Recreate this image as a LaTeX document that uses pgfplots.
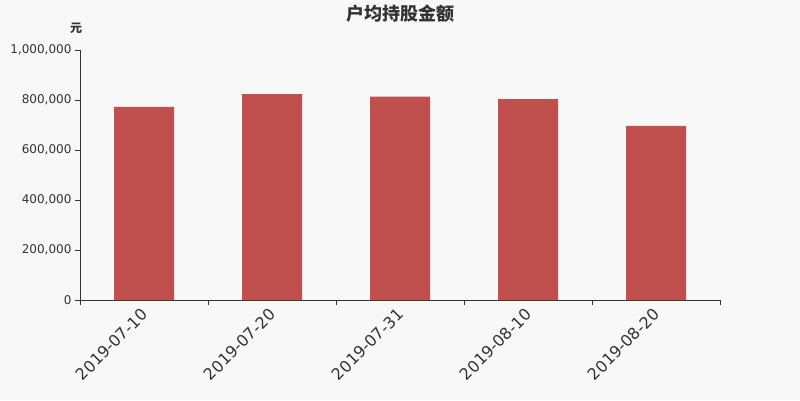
\documentclass[border=0pt]{standalone}
\usepackage{fontspec}
\setmainfont{DejaVu Sans}
\newfontfamily\cjk{Noto Sans CJK SC}
\usepackage{pgfplots}
\pgfplotsset{compat=1.18}
\definecolor{bg}{HTML}{F8F8F8}
\definecolor{barred}{HTML}{C0504D}
\definecolor{txt}{HTML}{333333}

\begin{document}
\begin{tikzpicture}[x=1pt,y=1pt]
\fill[bg] (0,0) rectangle (800,400);
\path[use as bounding box] (0,0) rectangle (800,400);
\begin{axis}[
    at={(80pt,100pt)}, anchor=south west,
    width=640pt, height=250pt, scale only axis,
    xmin=-0.5, xmax=4.5, ymin=0, ymax=1000000,
    axis x line*=bottom, axis y line*=left,
    axis line style={-, draw=txt, line width=0.8pt},
    tick align=outside, major tick length=5pt,
    tick style={draw=txt, line width=0.8pt},
    xtick={-0.5,0.5,1.5,2.5,3.5,4.5}, xticklabels={},
    extra x ticks={0,1,2,3,4},
    extra x tick labels={2019-07-10,2019-07-20,2019-07-31,2019-08-10,2019-08-20},
    extra x tick style={major tick length=0pt,
        tick label style={yshift=-9pt, xshift=3pt, rotate=45, anchor=east,
            font=\fontsize{16}{16}\selectfont, text=txt}},
    ytick={0,200000,400000,600000,800000,1000000},
    scaled y ticks=false,
    yticklabel style={font=\fontsize{12}{12}\selectfont, text=txt,
        /pgf/number format/.cd, fixed, 1000 sep={,}, assume math mode=true},
    title={户均持股金额},
    title style={at={(0.5,1)}, anchor=center, yshift=30pt,
        font=\cjk\bfseries\fontsize{18}{18}\selectfont, text=txt},
    ylabel={元},
    every axis y label/.style={at={(axis description cs:0,1)}, anchor=center,
        xshift=-4pt, yshift=22pt, font=\cjk\bfseries\fontsize{12}{12}\selectfont, text=txt},
]
\addplot[ybar, bar width=60pt, fill=barred, draw=none] coordinates {
    (0, 773000)
    (1, 824000)
    (2, 814000)
    (3, 804000)
    (4, 697000)
};
\end{axis}
\end{tikzpicture}
\end{document}
